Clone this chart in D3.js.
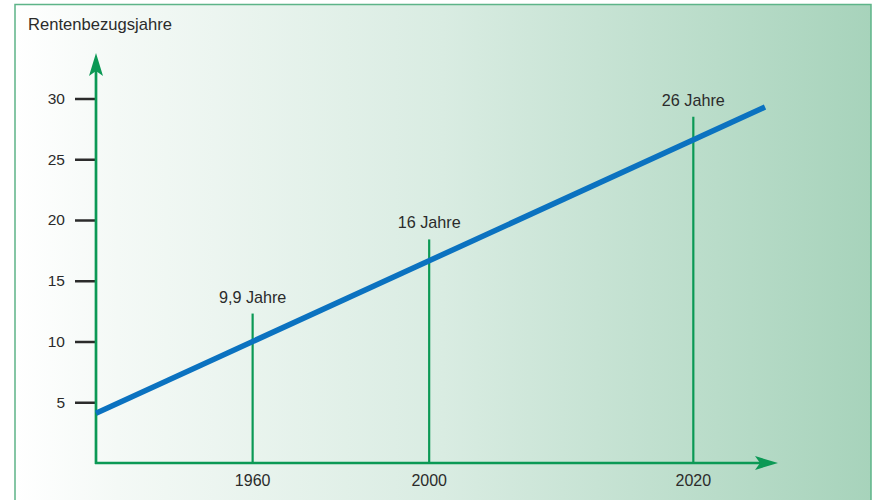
<!DOCTYPE html>
<html>
<head>
<meta charset="utf-8">
<script src="https://cdn.jsdelivr.net/npm/d3@7"></script>
<style>
  body { margin: 0; background: #fff; }
  svg { display: block; font-family: "Liberation Sans", Arial, sans-serif; }
</style>
</head>
<body>
<svg id="chart"></svg>
<script>
// Werte
var yTicks = [5, 10, 15, 20, 25, 30];
var trendValues = [4.1, 29.3];            // Rentenbezugsjahre am Anfang / Ende der Linie
var years = ["1960", "2000", "2020"];
var yearLabels = ["9,9 Jahre", "16 Jahre", "26 Jahre"];
var yearValues = [10.0, 16.65, 26.6];     // wo die Linie die Markierung schneidet
var stemTops = [12.3, 18.4, 28.5];        // Oberkante der senkrechten Markierung
var yTitle = "Rentenbezugsjahre";

var W = 872, H = 500;
var svg = d3.select("#chart").attr("width", W).attr("height", H);

var defs = svg.append("defs");
var grad = defs.append("linearGradient").attr("id", "bg").attr("x1", 0).attr("x2", 1).attr("y1", 0).attr("y2", 0);
grad.append("stop").attr("offset", 0).attr("stop-color", "#ffffff");
grad.append("stop").attr("offset", 0.12).attr("stop-color", "#f4f9f6");
grad.append("stop").attr("offset", 0.5).attr("stop-color", "#d9ece2");
grad.append("stop").attr("offset", 1).attr("stop-color", "#a7d3bb");

// Hintergrund und Rahmen
svg.append("rect").attr("x", 15).attr("y", 4.5).attr("width", 856).attr("height", H)
  .attr("fill", "url(#bg)").attr("stroke", "#5db488").attr("stroke-width", 1.5);

var x0 = 96, yBase = 463;
var y = d3.scaleLinear().domain([0, 30]).range([yBase, 98.5]);
var x = d3.scaleLinear().domain(trendValues).range([x0, 765]);

var green = "#0b9955";

// y-Achsen-Ticks
var yAxis = d3.axisLeft(y).tickValues(yTicks).tickSize(21).tickPadding(10);
var ga = svg.append("g").attr("transform", "translate(" + x0 + ",0)").call(yAxis);
ga.select(".domain").remove();
ga.selectAll(".tick line").attr("stroke", "#2b2b2b").attr("stroke-width", 2.5);
ga.selectAll(".tick text").attr("font-size", 15.5).attr("fill", "#2b2b2b")
  .attr("font-family", "Liberation Sans, Arial, sans-serif");

// Titel
svg.append("text").attr("x", 28).attr("y", 30).attr("font-size", 16.6).attr("fill", "#2b2b2b").text(yTitle);

// Markierungen
var marks = years.map(function(d, i) {
  return { year: d, label: yearLabels[i], v: yearValues[i], top: stemTops[i] };
});

svg.selectAll(".stem").data(marks).enter().append("line")
  .attr("class", "stem")
  .attr("x1", function(d) { return x(d.v); }).attr("x2", function(d) { return x(d.v); })
  .attr("y1", yBase).attr("y2", function(d) { return y(d.top); })
  .attr("stroke", green).attr("stroke-width", 2.2);

svg.selectAll(".lbl").data(marks).enter().append("text")
  .attr("class", "lbl")
  .attr("x", function(d) { return x(d.v); })
  .attr("y", function(d) { return y(d.top) - 11; })
  .attr("text-anchor", "middle").attr("font-size", 16.2).attr("fill", "#2b2b2b")
  .text(function(d) { return d.label; });

svg.selectAll(".yr").data(marks).enter().append("text")
  .attr("class", "yr")
  .attr("x", function(d) { return x(d.v); })
  .attr("y", 486)
  .attr("text-anchor", "middle").attr("font-size", 16).attr("fill", "#2b2b2b")
  .text(function(d) { return d.year; });

// Achsen mit Pfeilen
svg.append("line").attr("x1", x0).attr("x2", x0).attr("y1", yBase + 1).attr("y2", 68)
  .attr("stroke", green).attr("stroke-width", 2.7);
svg.append("line").attr("x1", x0 - 1).attr("x2", 762).attr("y1", yBase).attr("y2", yBase)
  .attr("stroke", green).attr("stroke-width", 2.7);

var arrow = "M0,0 L7,23 L0,18 L-7,23 Z";
svg.append("path").attr("d", arrow).attr("fill", green)
  .attr("transform", "translate(" + x0 + ",53)");
svg.append("path").attr("d", arrow).attr("fill", green)
  .attr("transform", "translate(778," + yBase + ") rotate(90)");

// Trendlinie
var line = d3.line().x(function(d) { return x(d); }).y(function(d) { return y(d); });
svg.append("path").datum(trendValues).attr("d", line)
  .attr("fill", "none").attr("stroke", "#0b72c0").attr("stroke-width", 5.5);
</script>
</body>
</html>
